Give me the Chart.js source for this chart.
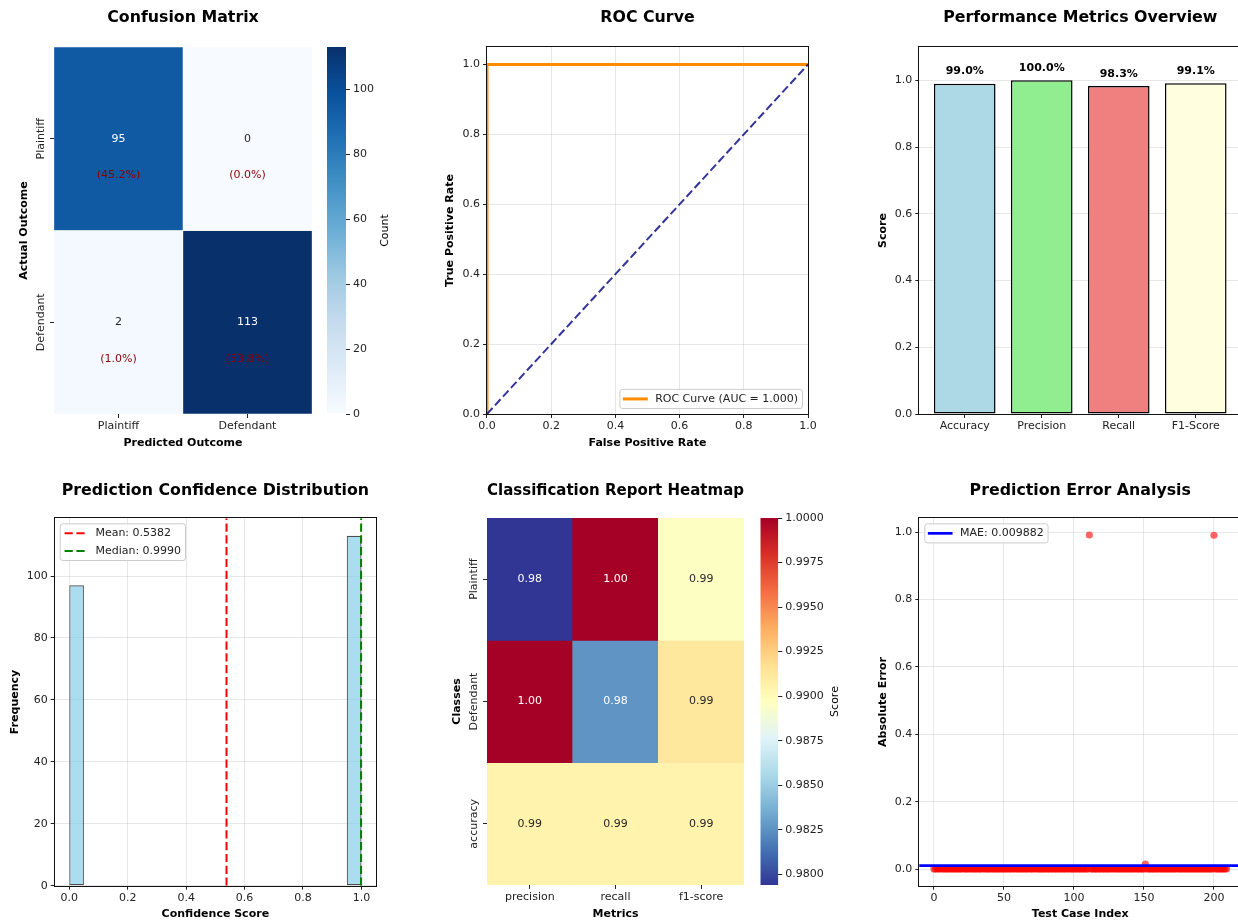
<!DOCTYPE html>
<html lang="en">
<head>
<meta charset="utf-8">
<title>Case outcome model – evaluation</title>
<script src="https://cdn.jsdelivr.net/npm/chart.js@4.4.1/dist/chart.umd.min.js"></script>
<style>
  html, body { margin: 0; padding: 0; background: #ffffff; overflow: hidden; width: 1238px; height: 922px; }
  #board { position: relative; width: 1238px; height: 922px; overflow: hidden; background: #ffffff; }
  #board canvas { position: absolute; }
</style>
</head>
<body>
<div id="board"></div>
<script>
// ---------------- data ----------------
// Confusion matrix (rows = actual, columns = predicted)
const OUTCOMES = ['Plaintiff', 'Defendant'];
const CONFUSION = [
  [95, 0],
  [2, 113]
];
const COUNT_TICKS = [0, 20, 40, 60, 80, 100];

// ROC curve
const ROC_FPR = [0.0, 0.0, 1.0];
const ROC_TPR = [0.0, 1.0, 1.0];
const CHANCE_FPR = [0.0, 1.0];
const CHANCE_TPR = [0.0, 1.0];
const ROC_AUC = 1.000;
const RATE_TICKS = [0.0, 0.2, 0.4, 0.6, 0.8, 1.0];

// Headline metrics
const METRIC_NAMES = ['Accuracy', 'Precision', 'Recall', 'F1-Score'];
const METRIC_SCORES = [0.990, 1.000, 0.983, 0.991];
const SCORE_TICKS = [0.0, 0.2, 0.4, 0.6, 0.8, 1.0];

// Predicted probability histogram (20 bins over 0..1)
const CONFIDENCE_BIN_WIDTH = 0.05;
const CONFIDENCE_COUNTS = [97, 0, 0, 0, 0, 0, 0, 0, 0, 0, 0, 0, 0, 0, 0, 0, 0, 0, 0, 113];
const CONFIDENCE_MEAN = 0.5382;
const CONFIDENCE_MEDIAN = 0.9990;
const CONFIDENCE_TICKS = [0.0, 0.2, 0.4, 0.6, 0.8, 1.0];
const FREQUENCY_TICKS = [0, 20, 40, 60, 80, 100];

// Classification report
const REPORT_ROWS = ['Plaintiff', 'Defendant', 'accuracy'];
const REPORT_COLS = ['precision', 'recall', 'f1-score'];
const REPORT = [
  [0.9794, 1.0000, 0.9896],
  [1.0000, 0.9826, 0.9912],
  [0.9905, 0.9905, 0.9905]
];
const REPORT_CBAR_TICKS = [0.9800, 0.9825, 0.9850, 0.9875, 0.9900, 0.9925, 0.9950, 0.9975, 1.0000];

// Absolute error per test case
const ABS_ERRORS = [
  0.0003, 0.0001, 0.0005, 0.0002, 0.0004, 0.0002, 0.0007, 0.0001, 0.0003, 0.0002,
  0.0004, 0.0002, 0.0001, 0.0006, 0.0003, 0.0002, 0.0005, 0.0001, 0.0003, 0.0004,
  0.0002, 0.0008, 0.0001, 0.0003, 0.0002, 0.0004, 0.0001, 0.0005, 0.0002, 0.0003,
  0.0006, 0.0002, 0.0001, 0.0004, 0.0003, 0.0012, 0.0002, 0.0001, 0.0003, 0.0005,
  0.0002, 0.0004, 0.0001, 0.0003, 0.0002, 0.0006, 0.0003, 0.0001, 0.0004, 0.0002,
  0.0003, 0.0005, 0.0002, 0.0001, 0.0004, 0.0002, 0.0003, 0.0007, 0.0001, 0.0002,
  0.0004, 0.0003, 0.0002, 0.0005, 0.0001, 0.0003, 0.0002, 0.0004, 0.0006, 0.0002,
  0.0001, 0.0003, 0.0009, 0.0002, 0.0004, 0.0001, 0.0003, 0.0002, 0.0005, 0.0003,
  0.0002, 0.0004, 0.0001, 0.0003, 0.0006, 0.0002, 0.0001, 0.0004, 0.0003, 0.0002,
  0.0005, 0.0002, 0.0003, 0.0001, 0.0004, 0.0002, 0.0007, 0.0003, 0.0001, 0.0002,
  0.0003, 0.0004, 0.0002, 0.0001, 0.0005, 0.0003, 0.0002, 0.0004, 0.0001, 0.0003,
  0.0002, 0.9915, 0.0004, 0.0001, 0.0003, 0.0006, 0.0002, 0.0003, 0.0001, 0.0004,
  0.0002, 0.0005, 0.0003, 0.0001, 0.0002, 0.0004, 0.0003, 0.0008, 0.0002, 0.0001,
  0.0004, 0.0002, 0.0003, 0.0005, 0.0001, 0.0002, 0.0004, 0.0003, 0.0002, 0.0006,
  0.0001, 0.0003, 0.0002, 0.0004, 0.0002, 0.0001, 0.0005, 0.0003, 0.0002, 0.0004,
  0.0003, 0.0146, 0.0002, 0.0004, 0.0001, 0.0003, 0.0005, 0.0002, 0.0003, 0.0001,
  0.0004, 0.0002, 0.0006, 0.0003, 0.0001, 0.0002, 0.0004, 0.0003, 0.0005, 0.0002,
  0.0001, 0.0003, 0.0002, 0.0004, 0.0007, 0.0002, 0.0003, 0.0001, 0.0004, 0.0002,
  0.0003, 0.0005, 0.0002, 0.0001, 0.0003, 0.0004, 0.0002, 0.0006, 0.0003, 0.0001,
  0.0002, 0.0004, 0.0003, 0.0002, 0.0005, 0.0001, 0.0003, 0.0002, 0.0004, 0.0003,
  0.9908, 0.0002, 0.0004, 0.0001, 0.0003, 0.0005, 0.0002, 0.0003, 0.0001, 0.0004
];
const MAE = 0.009882;
const CASE_TICKS = [0, 50, 100, 150, 200];
const ERROR_TICKS = [0.0, 0.2, 0.4, 0.6, 0.8, 1.0];

// ---------------- styling ----------------
const FONT = 'DejaVu Sans';
const TITLE_SIZE = 15.8;
const LABEL_SIZE = 11;
const TICK_SIZE = 11;
const INK = '#222222';
const GRID = 'rgba(176,176,176,0.3)';
const TICK_LEN = 4;
const X_AXIS_H = 35.5;
const DASH = [8.2, 3.6];

const BLUES = ['#f7fbff', '#deebf7', '#c6dbef', '#9ecae1', '#6baed6', '#4292c6', '#2171b5', '#08519c', '#08306b'];
const RDYLBU_R = ['#313695', '#4575b4', '#74add1', '#abd9e9', '#e0f3f8', '#ffffbf', '#fee090', '#fdae61', '#f46d43', '#d73027', '#a50026'];
const METRIC_COLORS = ['#add8e6', '#90ee90', '#f08080', '#ffffe0'];

// plot rectangles on the page
const AREA = {
  confusion: { left: 54,    top: 47,    right: 312,    bottom: 414 },
  countBar:  { left: 327,   top: 47,    right: 346,    bottom: 414 },
  roc:       { left: 487,   top: 47,    right: 808,    bottom: 414 },
  metrics:   { left: 919.3, top: 47,    right: 1241.2, bottom: 414 },
  hist:      { left: 54.7,  top: 518.3, right: 376,    bottom: 885.7 },
  report:    { left: 487,   top: 518,   right: 744,    bottom: 885 },
  scoreBar:  { left: 760.3, top: 518,   right: 778.3,  bottom: 885 },
  errors:    { left: 919.3, top: 518.3, right: 1241.2, bottom: 885.7 }
};
const Y_TITLE_X = { confusion: 24, roc: 450, metrics: 882.7, hist: 15, report: 457.3, errors: 882.7 };
const ROW_TOP = [0, 460];
const TITLE_CY = [18.3, 490.6];

Chart.defaults.font.family = FONT;
Chart.defaults.font.size = TICK_SIZE;
Chart.defaults.color = INK;

const COMMON = { responsive: false, maintainAspectRatio: false, animation: false, events: [], devicePixelRatio: 1 };
const NO_LEGEND = { legend: { display: false }, tooltip: { enabled: false } };
const BOARD = document.getElementById('board');

// ---------------- helpers ----------------
function makeCanvas(box) {
  const c = document.createElement('canvas');
  c.width = box.w; c.height = box.h;
  c.style.left = box.x + 'px'; c.style.top = box.y + 'px';
  BOARD.appendChild(c);
  return c;
}

function geom(area, row, yTitleX) {
  const yW = area.left - yTitleX + LABEL_SIZE * 0.6;
  const x = Math.floor(area.left - yW) - 4;
  const y = ROW_TOP[row];
  const r = Math.ceil(area.right) + 24;
  const b = Math.ceil(area.bottom + X_AXIS_H) + 4;
  const lh = TITLE_SIZE * 1.2;
  const tTop = TITLE_CY[row] - y - lh / 2;
  const tBottom = area.top - y - tTop - lh;
  return {
    box: { x, y, w: r - x, h: b - y },
    padding: { left: area.left - yW - x, right: r - area.right, top: 0, bottom: b - area.bottom - X_AXIS_H },
    yW,
    titlePad: { top: tTop, bottom: tBottom }
  };
}

function titleOpts(text, pad) {
  return { display: true, text, color: '#000', font: { size: TITLE_SIZE, weight: 'bold' }, padding: pad, fullSize: false };
}

function axisTitle(text) {
  return text ? { display: true, text, color: '#000', font: { size: LABEL_SIZE, weight: 'bold' }, padding: 0 } : { display: false };
}

function linearScale(o) {
  return {
    type: 'linear', position: o.position,
    min: o.min, max: o.max, reverse: !!o.reverse, stacked: !!o.stacked,
    bounds: 'data', offset: false,
    afterBuildTicks: s => { s.ticks = o.ticks.map(v => ({ value: v })); },
    afterFit: s => { if (o.width != null) s.width = o.width; if (o.height != null) s.height = o.height; },
    ticks: { display: o.showLabels !== false, callback: v => o.fmt(v), color: INK, font: { size: TICK_SIZE },
             padding: o.pad != null ? o.pad : 3, autoSkip: false, maxRotation: 0, minRotation: 0 },
    grid: { display: true, drawOnChartArea: !!o.grid, color: GRID, lineWidth: 1, drawTicks: true,
            tickLength: TICK_LEN, tickColor: INK, tickWidth: 1, offset: false },
    border: { display: false },
    title: axisTitle(o.title)
  };
}

function categoryScale(title) {
  return {
    type: 'category', stacked: true, offset: true,
    afterFit: s => { s.height = X_AXIS_H; },
    ticks: { color: INK, font: { size: TICK_SIZE }, padding: 2, autoSkip: false, maxRotation: 0, minRotation: 0 },
    grid: { display: true, drawOnChartArea: false, offset: false, drawTicks: true, tickLength: TICK_LEN, tickColor: INK, tickWidth: 1 },
    border: { display: false },
    title: axisTitle(title)
  };
}

function padRange(lo, hi, frac) { const d = (hi - lo) * frac; return [lo - d, hi + d]; }

function hexToRgb(h) { const n = parseInt(h.slice(1), 16); return [(n >> 16) & 255, (n >> 8) & 255, n & 255]; }
function sampleMap(stops, t) {
  t = Math.max(0, Math.min(1, t));
  const p = t * (stops.length - 1);
  const i = Math.min(Math.floor(p), stops.length - 2);
  const f = p - i;
  const a = hexToRgb(stops[i]), b = hexToRgb(stops[i + 1]);
  return a.map((v, k) => v + (b[k] - v) * f);
}
const css = c => `rgb(${c.map(Math.round).join(',')})`;
function luminance(c) {
  const lin = c.map(v => { v /= 255; return v <= 0.03928 ? v / 12.92 : Math.pow((v + 0.055) / 1.055, 2.4); });
  return 0.2126 * lin[0] + 0.7152 * lin[1] + 0.0722 * lin[2];
}
const annotColor = c => (luminance(c) > 0.408 ? '#262626' : '#ffffff');

function rotatedText(ctx, text, x, y, font, color) {
  ctx.save();
  ctx.translate(x, y);
  ctx.rotate(-Math.PI / 2);
  ctx.font = font; ctx.fillStyle = color;
  ctx.textAlign = 'center'; ctx.textBaseline = 'middle';
  ctx.fillText(text, 0, 0);
  ctx.restore();
}

// axes box: all four spines, drawn as separate edges
const framePlugin = {
  id: 'frame',
  afterDatasetsDraw(chart) {
    const { ctx, chartArea: a } = chart;
    const l = Math.round(a.left) - 0.5, t = Math.round(a.top) - 0.5;
    const r = Math.round(a.right) + 0.5, b = Math.round(a.bottom) + 0.5;
    ctx.save();
    ctx.strokeStyle = '#111'; ctx.lineWidth = 1; ctx.lineCap = 'square';
    ctx.beginPath();
    ctx.moveTo(l, t); ctx.lineTo(r, t);
    ctx.moveTo(r, t); ctx.lineTo(r, b);
    ctx.moveTo(l, b); ctx.lineTo(r, b);
    ctx.moveTo(l, t); ctx.lineTo(l, b);
    ctx.stroke();
    ctx.restore();
  }
};

function rowLabelPlugin(labels) {
  return {
    id: 'rowLabels',
    afterDraw(chart) {
      const y = chart.scales.y, a = chart.chartArea;
      labels.forEach((t, i) => rotatedText(chart.ctx, t, a.left - TICK_LEN - 9, y.getPixelForValue(i + 0.5), `${TICK_SIZE}px "${FONT}"`, INK));
    }
  };
}

function legendPlugin(entries, corner) {
  return {
    id: 'boxLegend',
    afterDraw(chart) {
      const { ctx, chartArea: a } = chart;
      const fs = 11, padX = 0.4 * fs, padY = 3.5, handle = 2 * fs, gap = 0.8 * fs, rowH = 12.1, spacing = 0.5 * fs, axPad = 0.5 * fs;
      ctx.save();
      ctx.font = `${fs}px "${FONT}"`;
      const tw = Math.max(...entries.map(e => ctx.measureText(e.label).width));
      const w = padX + handle + gap + tw + padX;
      const h = 2 * padY + entries.length * rowH + (entries.length - 1) * spacing;
      const x0 = corner === 'upper left' ? a.left + axPad : a.right - axPad - w;
      const y0 = corner === 'upper left' ? a.top + axPad : a.bottom - axPad - h;
      ctx.beginPath();
      ctx.roundRect(x0, y0, w, h, 2.5);
      ctx.fillStyle = 'rgba(255,255,255,0.8)';
      ctx.fill();
      ctx.strokeStyle = '#cccccc'; ctx.lineWidth = 1;
      ctx.stroke();
      entries.forEach((e, i) => {
        const cy = y0 + padY + rowH / 2 + i * (rowH + spacing);
        ctx.beginPath();
        ctx.setLineDash(e.dash || []);
        ctx.lineCap = e.dash ? 'butt' : 'square';
        ctx.strokeStyle = e.color; ctx.lineWidth = e.width;
        ctx.moveTo(x0 + padX, cy); ctx.lineTo(x0 + padX + handle, cy);
        ctx.stroke();
        ctx.setLineDash([]);
        ctx.fillStyle = INK; ctx.textAlign = 'left'; ctx.textBaseline = 'middle';
        ctx.fillText(e.label, x0 + padX + handle + gap, cy);
      });
      ctx.restore();
    }
  };
}

function gradientFill(stops, lo, hi) {
  return c => {
    const chart = c.chart;
    if (!chart.chartArea) return stops[0];
    const y = chart.scales.y;
    const g = chart.ctx.createLinearGradient(0, y.getPixelForValue(lo), 0, y.getPixelForValue(hi));
    stops.forEach((s, i) => g.addColorStop(i / (stops.length - 1), s));
    return g;
  };
}

function colorbar(area, rightW, stops, lo, hi, ticks, fmt, label, labelOffset) {
  const x = Math.floor(area.left) - 2, y = Math.floor(area.top) - 10;
  const r = Math.ceil(area.right + rightW) + 2, b = Math.ceil(area.bottom) + 10;
  const cv = makeCanvas({ x, y, w: r - x, h: b - y });
  return new Chart(cv, {
    type: 'bar',
    data: { labels: [''], datasets: [{ data: [[lo, hi]], backgroundColor: gradientFill(stops, lo, hi), borderWidth: 0,
                                       barPercentage: 1, categoryPercentage: 1, inflateAmount: 0 }] },
    options: {
      ...COMMON,
      layout: { padding: { left: area.left - x, top: area.top - y, right: r - area.right - rightW, bottom: b - area.bottom } },
      plugins: NO_LEGEND,
      scales: {
        x: { display: false },
        y: linearScale({ position: 'right', min: lo, max: hi, ticks, fmt, width: rightW, pad: 3 })
      }
    },
    plugins: [{
      id: 'cbarLabel',
      afterDraw(chart) {
        const a = chart.chartArea;
        rotatedText(chart.ctx, label, a.right + labelOffset, (a.top + a.bottom) / 2, `${LABEL_SIZE}px "${FONT}"`, '#000');
      }
    }]
  });
}

// ---------------- 1. confusion matrix ----------------
(function () {
  const area = AREA.confusion;
  const g = geom(area, 0, Y_TITLE_X.confusion);
  const flat = CONFUSION.flat();
  const lo = Math.min(...flat), hi = Math.max(...flat);
  const total = flat.reduce((s, v) => s + v, 0);
  const cellRgb = CONFUSION.map(row => row.map(v => sampleMap(BLUES, (v - lo) / (hi - lo))));
  new Chart(makeCanvas(g.box), {
    type: 'bar',
    data: {
      labels: OUTCOMES,
      datasets: CONFUSION.map((row, r) => ({
        label: OUTCOMES[r],
        data: row.map(() => 1),
        backgroundColor: cellRgb[r].map(css),
        borderColor: '#ffffff', borderWidth: 0.5, borderSkipped: false,
        barPercentage: 1, categoryPercentage: 1
      }))
    },
    options: {
      ...COMMON,
      layout: { padding: g.padding },
      plugins: { ...NO_LEGEND, title: titleOpts('Confusion Matrix', g.titlePad) },
      scales: {
        x: categoryScale('Predicted Outcome'),
        y: linearScale({ min: 0, max: CONFUSION.length, reverse: true, stacked: true, showLabels: false,
                         ticks: CONFUSION.map((_, i) => i + 0.5), fmt: v => '', width: g.yW, title: 'Actual Outcome' })
      }
    },
    plugins: [rowLabelPlugin(OUTCOMES), {
      id: 'cellText',
      afterDatasetsDraw(chart) {
        const { ctx } = chart; const y = chart.scales.y;
        ctx.save();
        ctx.font = `${LABEL_SIZE}px "${FONT}"`; ctx.textAlign = 'center'; ctx.textBaseline = 'middle';
        CONFUSION.forEach((row, r) => {
          const meta = chart.getDatasetMeta(r);
          row.forEach((v, c) => {
            const cx = meta.data[c].x;
            ctx.fillStyle = annotColor(cellRgb[r][c]);
            ctx.fillText(String(v), cx, y.getPixelForValue(r + 0.5));
            ctx.fillStyle = '#8b0000';
            ctx.fillText(`(${(v / total * 100).toFixed(1)}%)`, cx, y.getPixelForValue(r + 0.7));
          });
        });
        ctx.restore();
      }
    }]
  });
  colorbar(AREA.countBar, 48, BLUES, lo, hi, COUNT_TICKS, v => String(v), 'Count', 39);
})();

// ---------------- 2. ROC curve ----------------
(function () {
  const area = AREA.roc;
  const g = geom(area, 0, Y_TITLE_X.roc);
  new Chart(makeCanvas(g.box), {
    type: 'scatter',
    data: {
      datasets: [
        { data: CHANCE_FPR.map((x, i) => ({ x, y: CHANCE_TPR[i] })), showLine: true, borderColor: 'rgba(0,0,128,0.8)', borderWidth: 2,
          borderDash: DASH, pointRadius: 0, clip: 0, order: 0 },
        { data: ROC_FPR.map((x, i) => ({ x, y: ROC_TPR[i] })), showLine: true, borderColor: '#ff8c00', borderWidth: 3,
          pointRadius: 0, clip: 0, order: 1 }
      ]
    },
    options: {
      ...COMMON,
      layout: { padding: g.padding },
      plugins: { ...NO_LEGEND, title: titleOpts('ROC Curve', g.titlePad) },
      scales: {
        x: linearScale({ min: 0, max: 1, ticks: RATE_TICKS, fmt: v => v.toFixed(1), grid: true, height: X_AXIS_H, pad: 2, title: 'False Positive Rate' }),
        y: linearScale({ min: 0, max: 1.05, ticks: RATE_TICKS, fmt: v => v.toFixed(1), grid: true, width: g.yW, title: 'True Positive Rate' })
      }
    },
    plugins: [framePlugin, legendPlugin([{ label: `ROC Curve (AUC = ${ROC_AUC.toFixed(3)})`, color: '#ff8c00', width: 3 }], 'lower right')]
  });
})();

// ---------------- 3. performance metrics ----------------
(function () {
  const area = AREA.metrics;
  const g = geom(area, 0, Y_TITLE_X.metrics);
  const xr = padRange(-0.4, METRIC_NAMES.length - 1 + 0.4, 0.05);
  new Chart(makeCanvas(g.box), {
    type: 'bar',
    data: {
      datasets: [{
        data: METRIC_SCORES.map((v, i) => ({ x: i, y: v })),
        backgroundColor: METRIC_COLORS, borderColor: '#000000', borderWidth: 1.5, borderSkipped: false,
        barPercentage: 0.8, categoryPercentage: 1
      }]
    },
    options: {
      ...COMMON,
      layout: { padding: g.padding },
      plugins: { ...NO_LEGEND, title: titleOpts('Performance Metrics Overview', g.titlePad) },
      scales: {
        x: linearScale({ min: xr[0], max: xr[1], ticks: METRIC_NAMES.map((_, i) => i), fmt: v => METRIC_NAMES[v], height: X_AXIS_H, pad: 2 }),
        y: linearScale({ min: 0, max: 1.1, ticks: SCORE_TICKS, fmt: v => v.toFixed(1), grid: true, width: g.yW, title: 'Score' })
      }
    },
    plugins: [framePlugin, {
      id: 'barValues',
      afterDatasetsDraw(chart) {
        const { ctx } = chart; const y = chart.scales.y; const meta = chart.getDatasetMeta(0);
        ctx.save();
        ctx.font = `bold ${LABEL_SIZE}px "${FONT}"`; ctx.fillStyle = '#000'; ctx.textAlign = 'center'; ctx.textBaseline = 'bottom';
        METRIC_SCORES.forEach((v, i) => ctx.fillText(`${(v * 100).toFixed(1)}%`, meta.data[i].x, y.getPixelForValue(v + 0.02)));
        ctx.restore();
      }
    }]
  });
})();

// ---------------- 4. confidence distribution ----------------
(function () {
  const area = AREA.hist;
  const g = geom(area, 1, Y_TITLE_X.hist);
  const n = CONFIDENCE_COUNTS.length;
  const xr = padRange(0, n * CONFIDENCE_BIN_WIDTH, 0.05);
  const yMax = Math.max(...CONFIDENCE_COUNTS) * 1.05;
  new Chart(makeCanvas(g.box), {
    type: 'bar',
    data: {
      datasets: [{
        data: CONFIDENCE_COUNTS.map((c, i) => ({ x: (i + 0.5) * CONFIDENCE_BIN_WIDTH, y: c })),
        backgroundColor: 'rgba(135,206,235,0.7)', borderColor: 'rgba(0,0,0,0.7)',
        borderWidth: c => (c.raw && c.raw.y > 0 ? 1.1 : 0), borderSkipped: false,
        barPercentage: 1, categoryPercentage: 1, inflateAmount: 0
      }]
    },
    options: {
      ...COMMON,
      layout: { padding: g.padding },
      plugins: { ...NO_LEGEND, title: titleOpts('Prediction Confidence Distribution', g.titlePad) },
      scales: {
        x: linearScale({ min: xr[0], max: xr[1], ticks: CONFIDENCE_TICKS, fmt: v => v.toFixed(1), grid: true, height: X_AXIS_H, pad: 2, title: 'Confidence Score' }),
        y: linearScale({ min: 0, max: yMax, ticks: FREQUENCY_TICKS, fmt: v => String(v), grid: true, width: g.yW, title: 'Frequency' })
      }
    },
    plugins: [{
      id: 'refLines',
      afterDatasetsDraw(chart) {
        const { ctx, chartArea: a } = chart; const x = chart.scales.x;
        ctx.save();
        ctx.beginPath(); ctx.rect(a.left, a.top, a.right - a.left, a.bottom - a.top); ctx.clip();
        ctx.lineWidth = 2; ctx.setLineDash(DASH); ctx.lineCap = 'butt';
        [[CONFIDENCE_MEAN, '#ff0000'], [CONFIDENCE_MEDIAN, '#008000']].forEach(([v, col]) => {
          const px = x.getPixelForValue(v);
          ctx.strokeStyle = col;
          ctx.beginPath(); ctx.moveTo(px, a.bottom); ctx.lineTo(px, a.top); ctx.stroke();
        });
        ctx.restore();
      }
    }, framePlugin, legendPlugin([
      { label: `Mean: ${CONFIDENCE_MEAN.toFixed(4)}`, color: '#ff0000', width: 2, dash: DASH },
      { label: `Median: ${CONFIDENCE_MEDIAN.toFixed(4)}`, color: '#008000', width: 2, dash: DASH }
    ], 'upper left')]
  });
})();

// ---------------- 5. classification report heatmap ----------------
(function () {
  const area = AREA.report;
  const g = geom(area, 1, Y_TITLE_X.report);
  const flat = REPORT.flat();
  const lo = Math.min(...flat), hi = Math.max(...flat);
  const cellRgb = REPORT.map(row => row.map(v => sampleMap(RDYLBU_R, (v - lo) / (hi - lo))));
  new Chart(makeCanvas(g.box), {
    type: 'bar',
    data: {
      labels: REPORT_COLS,
      datasets: REPORT.map((row, r) => ({
        label: REPORT_ROWS[r],
        data: row.map(() => 1),
        backgroundColor: cellRgb[r].map(css),
        borderWidth: 0, barPercentage: 1, categoryPercentage: 1
      }))
    },
    options: {
      ...COMMON,
      layout: { padding: g.padding },
      plugins: { ...NO_LEGEND, title: titleOpts('Classification Report Heatmap', g.titlePad) },
      scales: {
        x: categoryScale('Metrics'),
        y: linearScale({ min: 0, max: REPORT.length, reverse: true, stacked: true, showLabels: false,
                         ticks: REPORT.map((_, i) => i + 0.5), fmt: v => '', width: g.yW, title: 'Classes' })
      }
    },
    plugins: [rowLabelPlugin(REPORT_ROWS), {
      id: 'cellText',
      afterDatasetsDraw(chart) {
        const { ctx } = chart; const y = chart.scales.y;
        ctx.save();
        ctx.font = `${LABEL_SIZE}px "${FONT}"`; ctx.textAlign = 'center'; ctx.textBaseline = 'middle';
        REPORT.forEach((row, r) => {
          const meta = chart.getDatasetMeta(r);
          row.forEach((v, c) => {
            ctx.fillStyle = annotColor(cellRgb[r][c]);
            ctx.fillText(v.toFixed(2), meta.data[c].x, y.getPixelForValue(r + 0.5));
          });
        });
        ctx.restore();
      }
    }]
  });
  colorbar(AREA.scoreBar, 66, RDYLBU_R, lo, hi, REPORT_CBAR_TICKS, v => v.toFixed(4), 'Score', 56.7);
})();

// ---------------- 6. prediction error ----------------
(function () {
  const area = AREA.errors;
  const g = geom(area, 1, Y_TITLE_X.errors);
  const xr = padRange(0, ABS_ERRORS.length - 1, 0.05);
  const yr = padRange(Math.min(...ABS_ERRORS), Math.max(...ABS_ERRORS), 0.05);
  new Chart(makeCanvas(g.box), {
    type: 'scatter',
    data: {
      datasets: [{
        data: ABS_ERRORS.map((v, i) => ({ x: i, y: v })),
        backgroundColor: 'rgba(255,0,0,0.6)', borderWidth: 0, pointRadius: 3.6
      }]
    },
    options: {
      ...COMMON,
      layout: { padding: g.padding },
      plugins: { ...NO_LEGEND, title: titleOpts('Prediction Error Analysis', g.titlePad) },
      scales: {
        x: linearScale({ min: xr[0], max: xr[1], ticks: CASE_TICKS, fmt: v => String(v), grid: true, height: X_AXIS_H, pad: 2, title: 'Test Case Index' }),
        y: linearScale({ min: yr[0], max: yr[1], ticks: ERROR_TICKS, fmt: v => v.toFixed(1), grid: true, width: g.yW, title: 'Absolute Error' })
      }
    },
    plugins: [{
      id: 'maeLine',
      afterDatasetsDraw(chart) {
        const { ctx, chartArea: a } = chart; const py = chart.scales.y.getPixelForValue(MAE);
        ctx.save();
        ctx.strokeStyle = '#0000ff'; ctx.lineWidth = 2.7;
        ctx.beginPath(); ctx.moveTo(a.left, py); ctx.lineTo(a.right, py); ctx.stroke();
        ctx.restore();
      }
    }, framePlugin, legendPlugin([{ label: `MAE: ${MAE.toFixed(6)}`, color: '#0000ff', width: 2.7 }], 'upper left')]
  });
})();
</script>
</body>
</html>
